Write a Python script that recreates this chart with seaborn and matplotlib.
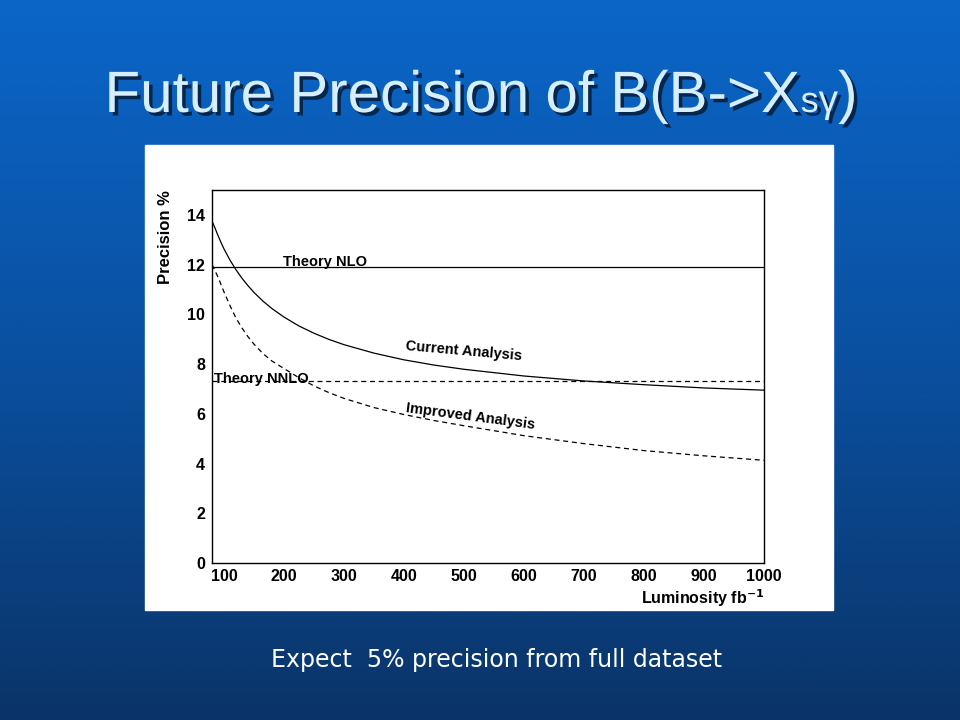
import numpy as np
import pandas as pd
import matplotlib
matplotlib.use("Agg")
import matplotlib.pyplot as plt
import matplotlib.colors as mcolors
import matplotlib.patheffects as pe
from matplotlib.ticker import MultipleLocator
import seaborn as sns

# === data ===
lumi = [80, 85, 90, 95, 100, 110, 120, 130, 140, 150, 165, 180, 200, 225, 250, 275, 300,
        350, 400, 450, 500, 600, 700, 800, 900, 1000]
current = [13.75, 13.47, 13.17, 12.89, 12.63, 12.18, 11.79, 11.45, 11.15, 10.88, 10.53, 10.23,
           9.89, 9.53, 9.24, 8.99, 8.78, 8.44, 8.17, 7.96, 7.79, 7.52, 7.32, 7.17, 7.04, 6.95]
improved = [12.0, 11.75, 11.5, 11.2, 10.9, 10.35, 9.85, 9.45, 9.1, 8.8, 8.42, 8.12,
            7.82, 7.45, 7.12, 6.85, 6.62, 6.25, 5.97, 5.73, 5.52, 5.12, 4.8, 4.52, 4.31, 4.13]
theory_nlo = 11.9
theory_nnlo = 7.3
x_ticks = [100, 200, 300, 400, 500, 600, 700, 800, 900, 1000]
y_ticks = [0, 2, 4, 6, 8, 10, 12, 14]

df = pd.DataFrame({"lumi": lumi, "Current Analysis": current, "Improved Analysis": improved})

sns.set_style("white")
plt.rcParams["font.family"] = ["Liberation Sans", "DejaVu Sans"]
plt.rcParams["text.color"] = "black"

fig = plt.figure(figsize=(9.6, 7.2), dpi=100)
renderer = fig.canvas.get_renderer()

# slide background: vertical blue gradient
bg = fig.add_axes([0, 0, 1, 1], zorder=-10)
cmap = mcolors.LinearSegmentedColormap.from_list("slide", ["#0a66c8", "#0a50a0", "#0a3468"])
bg.imshow(np.linspace(0, 1, 256).reshape(-1, 1), cmap=cmap, aspect="auto", extent=[0, 1, 0, 1])
bg.axis("off")

# white panel behind the plot
fig.patches.append(plt.Rectangle((145 / 960, 1 - 610 / 720), 688 / 960, 465 / 720,
                                 transform=fig.transFigure, color="white", zorder=-5))

ax = fig.add_axes([212 / 960, 1 - 563 / 720, 552 / 960, 373 / 720])
ax.set_facecolor("white")

dash = (0, (4, 3))
sns.lineplot(data=df, x="lumi", y="Current Analysis", ax=ax, color="black", lw=0.9)
sns.lineplot(data=df, x="lumi", y="Improved Analysis", ax=ax, color="black", lw=0.9, linestyle=dash)
ax.axhline(theory_nlo, color="black", lw=0.9)
ax.axhline(theory_nnlo, color="black", lw=0.9, linestyle=dash)

ax.set_xlim(80, 1000)
ax.set_ylim(0, 15)
ax.set_xticks(x_ticks)
ax.set_yticks(y_ticks)
ax.xaxis.set_minor_locator(MultipleLocator(20))
ax.yaxis.set_minor_locator(MultipleLocator(0.5))
ax.tick_params(axis="both", which="both", direction="in", top=False, right=False,
               color="black", labelcolor="black")
ax.tick_params(axis="y", which="major", length=18, width=0.9, pad=5)
ax.tick_params(axis="y", which="minor", length=9, width=0.9)
ax.tick_params(axis="x", which="major", length=12, width=0.9, pad=4)
ax.tick_params(axis="x", which="minor", length=6, width=0.9)
for lab in ax.get_xticklabels() + ax.get_yticklabels():
    lab.set_fontweight("bold")
    lab.set_fontsize(11.5)
for sp in ax.spines.values():
    sp.set_color("black")
    sp.set_linewidth(1.0)

ax.set_xlabel("Luminosity fb$^{\\mathbf{-1}}$", fontsize=11.5, fontweight="bold", loc="right",
              labelpad=3, color="black")
ax.set_ylabel("Precision %", fontsize=12, fontweight="bold", loc="top", labelpad=10, color="black")

# curve labels
lab_kw = dict(fontsize=10.5, fontweight="bold", color="black", va="baseline")
ax.text(198, 11.95, "Theory NLO", **lab_kw)
ax.text(83, 7.25, "Theory NNLO", **lab_kw)
ax.text(401, 8.15, "Current Analysis", rotation=-5, **lab_kw)
ax.text(401, 5.4, "Improved Analysis", rotation=-7.5, **lab_kw)

# slide title: pieces with small "sγ", centred, with a drop shadow
title_y = 1 - 112 / 720
shadow = [pe.withSimplePatchShadow(offset=(2.5, -2.5), shadow_rgbFace="#06213f", alpha=0.9)]
pieces = [("Future Precision of B(B->X", 42), ("s", 26), ("γ", 28), (")", 42)]
texts = []
for s, size in pieces:
    t = fig.text(0, title_y, s, fontsize=size, color="#d6eeff", ha="left", va="baseline",
                 family=["Liberation Sans", "DejaVu Sans"], path_effects=shadow)
    texts.append(t)
widths = [t.get_window_extent(renderer).width / 960 for t in texts]
x = 481 / 960 - sum(widths) / 2
for t, w in zip(texts, widths):
    t.set_x(x)
    x += w

fig.text(497 / 960, 1 - 660 / 720, "Expect  5% precision from full dataset", color="white",
         fontsize=17, ha="center", va="center", family=["DejaVu Sans"])

fig.savefig("out.png", dpi=100)
